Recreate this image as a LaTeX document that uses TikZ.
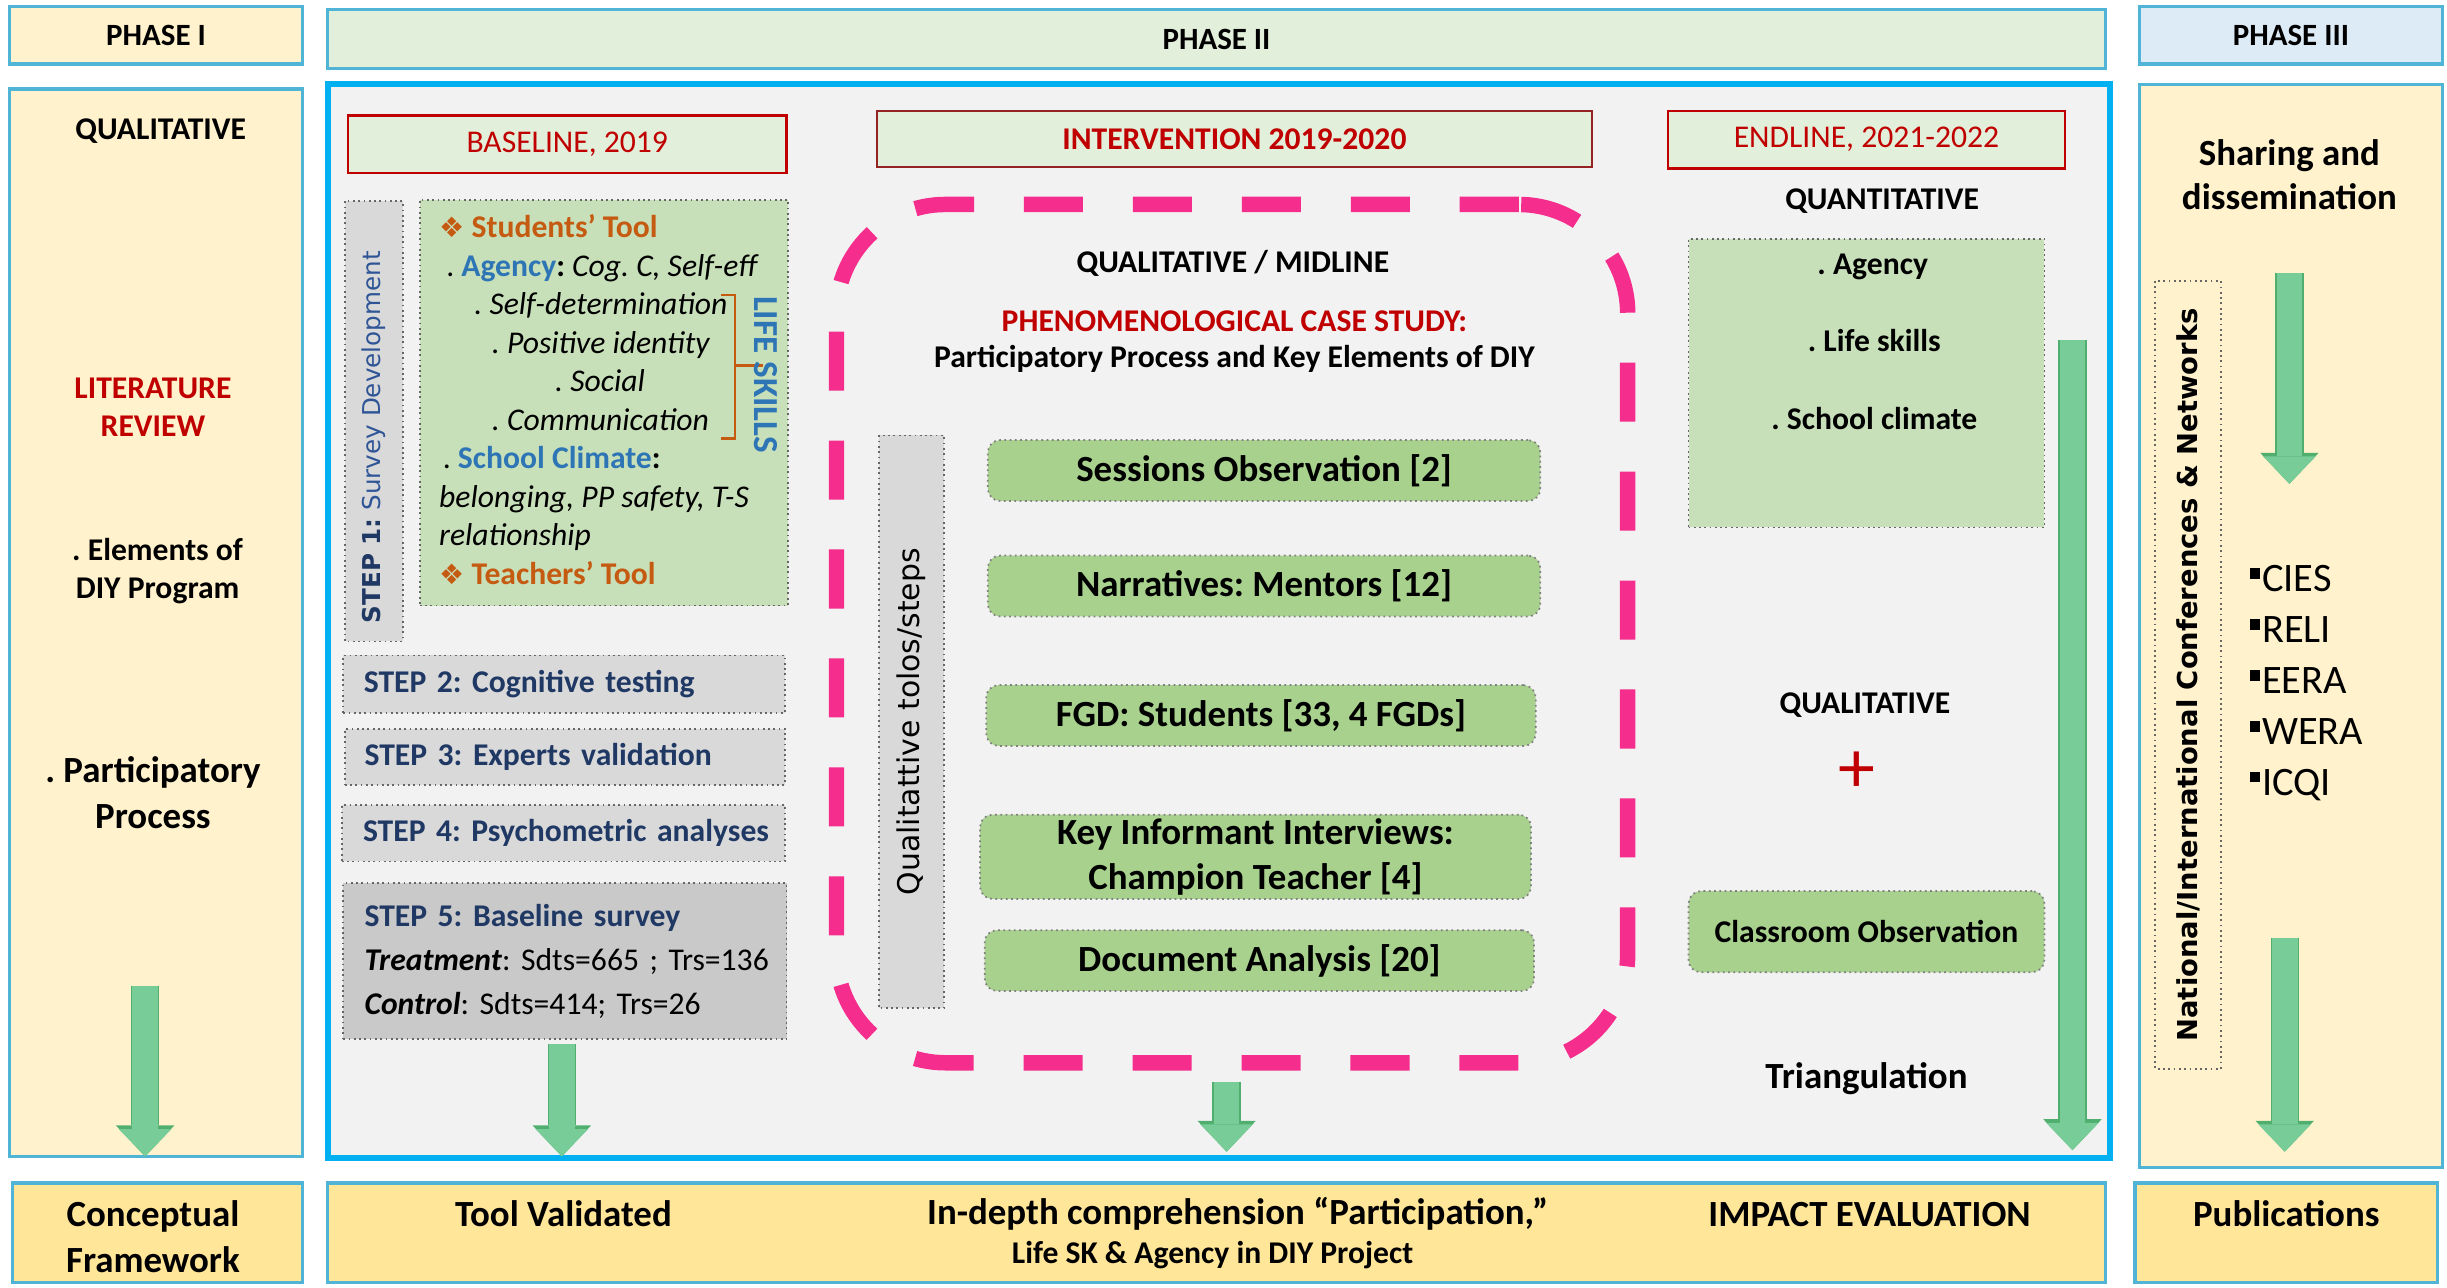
\documentclass[tikz,border=0pt]{standalone}
\usepackage{fontspec}
\setmainfont{Carlito}
\newfontfamily\verd{DejaVu Sans}
\usetikzlibrary{arrows.meta, positioning, calc}

\definecolor{phaseline}{RGB}{80,180,215}
\definecolor{cream}{RGB}{255,242,204}
\definecolor{gold}{RGB}{255,230,153}
\definecolor{palegreen}{RGB}{226,239,218}
\definecolor{paleblue}{RGB}{221,235,247}
\definecolor{mainblue}{RGB}{0,176,240}
\definecolor{panel}{RGB}{242,242,242}
\definecolor{darkred}{RGB}{192,0,0}
\definecolor{brickred}{RGB}{150,35,35}
\definecolor{toolgreen}{RGB}{200,224,185}
\definecolor{methgreen}{RGB}{169,209,142}
\definecolor{greyfill}{RGB}{217,217,217}
\definecolor{greyfill2}{RGB}{201,201,201}
\definecolor{navy}{RGB}{31,56,100}
\definecolor{stepblue}{RGB}{47,85,151}
\definecolor{skyblue}{RGB}{46,117,182}
\definecolor{rust}{RGB}{197,90,17}
\definecolor{hotpink}{RGB}{245,45,140}
\definecolor{arrowgreen}{RGB}{120,204,152}
\definecolor{arrowedge}{RGB}{80,175,110}

\newcommand{\pxl}{0.15606mm}
\newcommand{\sqbullet}{\raisebox{3.6pt}{\rule{3pt}{3pt}}\hspace{0.6pt}}

\tikzset{
    sz/.style 2 args={minimum width=#1*\pxl, minimum height=#2*\pxl},
    blockarr/.style={line width=7.3pt, draw=arrowgreen, -{Triangle[width=15pt, length=7.8pt, line width=0pt]},
        preaction={draw=arrowedge, line width=8.1pt, -{Triangle[width=16.6pt, length=8.8pt, line width=0pt]}}},
    lbl/.style={inner sep=0pt, font=\bfseries\fontsize{9}{11}\selectfont},
    bigl/.style={inner sep=0pt, align=center, font=\bfseries\fontsize{10.5}{12.9}\selectfont},
    phasehead/.style={draw=phaseline, line width=0.9pt, inner sep=0pt, font=\bfseries\fontsize{8.8}{10}\selectfont},
    phasebody/.style={draw=phaseline, line width=0.9pt, fill=cream, inner sep=0pt},
    result/.style={draw=phaseline, line width=0.9pt, fill=gold, inner sep=0pt},
    mainpanel/.style={draw=mainblue, line width=1.8pt, fill=panel, inner sep=0pt},
    yearhead/.style={draw=darkred, line width=0.6pt, fill=palegreen, inner sep=0pt, text=darkred, font=\fontsize{9}{11}\selectfont},
    greybox/.style={draw=black!60, densely dotted, line width=0.5pt, fill=greyfill, inner sep=0pt},
    stepbox/.style={greybox, text width=114pt, align=left, text=navy, font=\bfseries\fontsize{9}{12.6}\selectfont},
    toolbox/.style={draw=black!60, densely dotted, line width=0.5pt, fill=toolgreen, inner sep=0pt},
    method/.style={draw=black!50, densely dotted, line width=0.5pt, fill=methgreen, rounded corners=3.5pt, inner sep=0pt, font=\bfseries\fontsize{10.5}{12.8}\selectfont},
    pinkdash/.style={draw=hotpink, line width=4.4pt, dash pattern=on 16.8pt off 14.2pt, rounded corners=31pt, inner sep=0pt},
    netbox/.style={draw=black!60, densely dotted, line width=0.5pt, inner sep=0pt, font=\verd\bfseries\fontsize{7.8}{9}\selectfont},
}

\begin{document}
\frenchspacing
\begin{tikzpicture}[x=\pxl, y=-\pxl]
    \useasboundingbox (0,0) rectangle (1568,825);

    % phase headers
    \node[phasehead, fill=cream, sz={188}{37}] (ph1) at (100,22.5) {PHASE I};
    \node[phasehead, fill=palegreen, sz={1139}{38}] (ph2) at (779.5,25) {PHASE II};
    \node[phasehead, fill=paleblue, sz={194}{37}] (ph3) at (1468,22.5) {PHASE III};

    % phase bodies
    \node[phasebody, sz={188}{684}] (body1) at (100,399) {};
    \node[mainpanel, sz={1142}{688}] (body2) at (781,398) {};
    \node[phasebody, sz={194}{694}] (body3) at (1468,401) {};

    % results row
    \node[result, sz={186}{64}] (res1) at (101,790) {};
    \node[result, sz={1139}{64}] (res2) at (779.5,790) {};
    \node[result, sz={194}{64}] (res3) at (1465,790) {};

    % phase I
    \node[lbl] (p1qual) at (103,84) {QUALITATIVE};
    \node[lbl, text=darkred, align=center, font=\bfseries\fontsize{9}{10.7}\selectfont] (litrev) at (98,261) {LITERATURE\\REVIEW};
    \node[lbl, align=center] (elem) at (101,366) {. Elements of\\DIY Program};
    \node[bigl] (partproc) at (98,508) {. Participatory\\Process};
    \coordinate (a1) at (93,632);
    \coordinate (b1) at (93,741);
    \draw[blockarr] (a1) -- (b1);

    % baseline
    \node[yearhead, sz={281}{37}] (base) at (363.5,92.5) {BASELINE, 2019};
    \node[greybox, rotate=90, sz={282}{37}, font=\verd\fontsize{7}{8}\selectfont] (step1) at (239.5,270)
        {{\color{navy}\bfseries STEP 1:} {\color{stepblue}Survey Development}\hspace*{9pt}};
    \node[toolbox, sz={236}{260}] (tool) at (387,258) {};
    \node[anchor=west, align=left, inner sep=0pt, font=\fontsize{9}{10.95}\selectfont] (tooltxt) at (281,256) {%
        {\color{rust}\bfseries{\verd\footnotesize ❖} Students’ Tool}\\
        \hspace*{2pt}. \textbf{\color{skyblue}Agency}\textbf{:} \textit{Cog. C, Self-eff}\\
        \hspace*{10pt}\textit{. Self-determination}\\
        \hspace*{15pt}\textit{. Positive identity}\\
        \hspace*{33pt}\textit{. Social}\\
        \hspace*{15pt}\textit{. Communication}\\
        \hspace*{1pt}. \textbf{\color{skyblue}School Climate}\textbf{:}\\
        \textit{belonging, PP safety, T-S}\\
        \textit{relationship}\\
        {\color{rust}\bfseries{\verd\footnotesize ❖} Teachers’ Tool}};
    \draw[rust, line width=0.8pt] (462,189) -- (471,189) -- (471,281) -- (462,281) (471,234) -- (489,234);
    \node[rotate=-90, inner sep=0pt, text=skyblue, font=\bfseries\fontsize{10}{11}\selectfont] (lifesk) at (491,240) {LIFE SKILLS};
    \node[stepbox, sz={283}{37}] (step2) at (361.5,438.5) {\mbox{STEP 2: Cognitive testing}};
    \node[stepbox, sz={282}{36}] (step3) at (362,485) {\mbox{STEP 3: Experts validation}};
    \node[stepbox, sz={284}{36}] (step4) at (361,534) {\mbox{STEP 4: Psychometric analyses}};
    \node[stepbox, fill=greyfill2, sz={284}{100}] (step5) at (362,616) {\mbox{STEP 5: Baseline survey}\\
        \mbox{\color{black}\mdseries\textbf{\textit{Treatment}}: Sdts=665 ; Trs=136}\\
        \mbox{\color{black}\mdseries\textbf{\textit{Control}}: Sdts=414; Trs=26}};
    \coordinate (a2) at (360,669);
    \coordinate (b2) at (360,741);
    \draw[blockarr] (a2) -- (b2);

    % intervention
    \node[yearhead, draw=brickred, font=\bfseries\fontsize{9}{11}\selectfont, sz={458}{36}] (inter) at (791,89) {INTERVENTION 2019-2020};
    \node[pinkdash, sz={507}{550}] (midline) at (789.5,406) {};
    \node[lbl] (midq) at (790,169) {QUALITATIVE / MIDLINE};
    \node[lbl, text=darkred] (phenom) at (791,206) {PHENOMENOLOGICAL CASE STUDY:};
    \node[lbl] (partkey) at (791,230) {Participatory Process and Key Elements of DIY};
    \node[greybox, rotate=90, sz={367}{42}, font=\verd\fontsize{8.5}{10}\selectfont] (qualtools) at (584,462.5) {Qualitattive tolos/steps};
    \node[method, sz={354}{39}] (sessobs) at (810,301.5) {Sessions Observation [2]};
    \node[method, sz={354}{39}] (narr) at (810,375.5) {Narratives: Mentors [12]};
    \node[method, sz={352}{39}] (fgd) at (808,458.5) {FGD: Students [33, 4 FGDs]};
    \node[method, sz={353}{54}, align=center] (kii) at (804.5,549) {Key Informant Interviews:\\Champion Teacher [4]};
    \node[method, sz={352}{39}] (docan) at (807,615.5) {Document Analysis [20]};
    \coordinate (a3) at (786,693);
    \coordinate (b3) at (786,738);
    \draw[blockarr] (a3) -- (b3);

    % endline
    \node[yearhead, sz={254}{37}] (endl) at (1196,89.5) {ENDLINE, 2021-2022};
    \node[lbl] (quant) at (1206,129) {QUANTITATIVE};
    \node[toolbox, sz={228}{185}] (quantbox) at (1196,245.5) {};
    \node[lbl] (qagency) at (1200,171) {. Agency};
    \node[lbl] (qlife) at (1201,218) {. Life skills};
    \node[lbl] (qclimate) at (1201,268) {. School climate};
    \node[lbl] (qual2) at (1195,452) {QUALITATIVE};
    \node[inner sep=0pt, text=darkred, font=\fontsize{21}{21}\selectfont] (plus) at (1190,495) {+};
    \node[method, sz={228}{52}, font=\bfseries\fontsize{9}{11}\selectfont] (classobs) at (1196,597) {Classroom Observation};
    \node[bigl] (triang) at (1196,691) {Triangulation};
    \coordinate (a4) at (1328,218);
    \coordinate (b4) at (1328,737);
    \draw[blockarr] (a4) -- (b4);

    % phase III
    \node[bigl, font=\bfseries\fontsize{10.5}{12.4}\selectfont] (share) at (1467,112) {Sharing and\\dissemination};
    \node[netbox, rotate=90, sz={505}{42}] (netw) at (1402,432.5) {National/International Conferences \& Networks};
    \coordinate (a5) at (1467,175);
    \coordinate (b5) at (1467,310);
    \draw[blockarr] (a5) -- (b5);
    \node[anchor=west, align=left, inner sep=0pt, font=\fontsize{11.5}{14.5}\selectfont] (confs) at (1441,437.5)
        {\sqbullet CIES\\\sqbullet RELI\\\sqbullet EERA\\\sqbullet WERA\\\sqbullet ICQI};
    \coordinate (a6) at (1464,601);
    \coordinate (b6) at (1464,738);
    \draw[blockarr] (a6) -- (b6);

    % results
    \node[bigl] (concept) at (98,792.5) {Conceptual\\Framework};
    \node[bigl] (toolval) at (361,778) {Tool Validated};
    \node[bigl] (indepth) at (793,778) {In-depth comprehension “Participation,”};
    \node[lbl] (lifeag) at (777,804) {Life SK \& Agency in DIY Project};
    \node[bigl] (impact) at (1198,778) {IMPACT EVALUATION};
    \node[bigl] (publ) at (1465,778) {Publications};
\end{tikzpicture}
\end{document}
